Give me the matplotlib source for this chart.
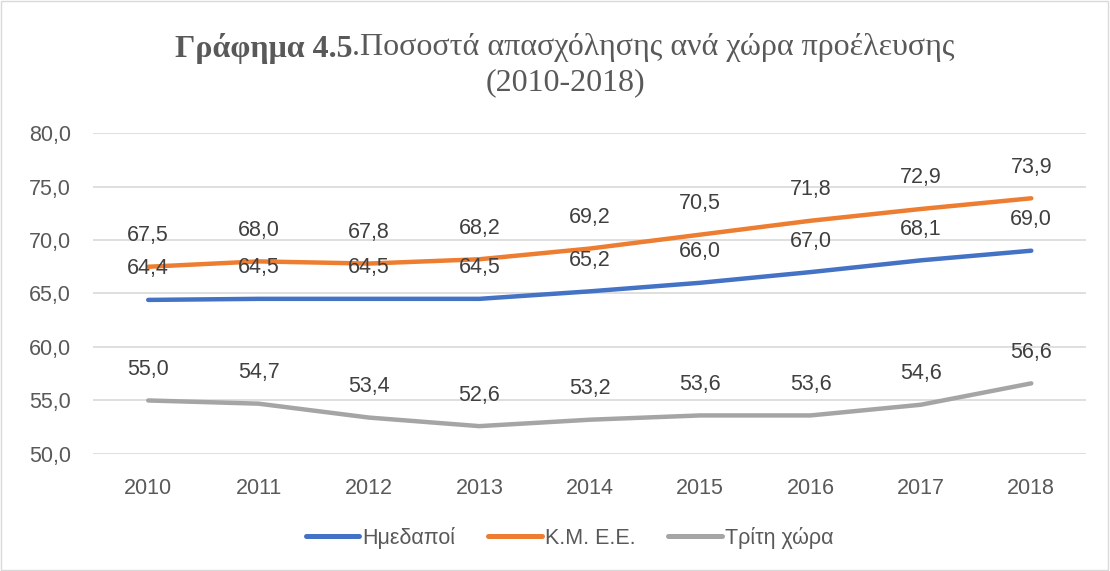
import matplotlib
matplotlib.use("Agg")
import matplotlib.pyplot as plt
from matplotlib.patches import Rectangle

years = ["2010", "2011", "2012", "2013", "2014", "2015", "2016", "2017", "2018"]
natives = [64.4, 64.5, 64.5, 64.5, 65.2, 66.0, 67.0, 68.1, 69.0]
eu = [67.5, 68.0, 67.8, 68.2, 69.2, 70.5, 71.8, 72.9, 73.9]
third = [55.0, 54.7, 53.4, 52.6, 53.2, 53.6, 53.6, 54.6, 56.6]
series_names = ["Ημεδαποί", "Κ.Μ. Ε.Ε.", "Τρίτη χώρα"]
y_ticks = [50, 55, 60, 65, 70, 75, 80]

colors = ["#4472C4", "#ED7D31", "#A5A5A5"]
text_color = "#595959"
sans = ["Liberation Sans", "DejaVu Sans"]
fs = 15.5

fig = plt.figure(figsize=(11.10, 5.71), dpi=100)
ax = fig.add_axes([0.0838, 0.205, 0.895, 0.562])

x = list(range(len(years)))
for vals, name, c in zip([natives, eu, third], series_names, colors):
    ax.plot(x, vals, color=c, lw=3.2, solid_capstyle="round", label=name, zorder=3)
    for xi, v in zip(x, vals):
        ax.annotate(f"{v:.1f}".replace(".", ","), (xi, v), xytext=(0, 31),
                    textcoords="offset pixels", ha="center", va="center",
                    fontsize=fs, color="#404040", family=sans, zorder=4)

ax.set_xlim(-0.5, len(years) - 0.5)
ax.set_ylim(50, 80)
ax.set_yticks(y_ticks)
ax.set_yticklabels([f"{t:.1f}".replace(".", ",") for t in y_ticks])
ax.set_xticks(x)
ax.set_xticklabels(years)
ax.tick_params(length=0, labelsize=fs, labelcolor=text_color)
ax.tick_params(axis="x", pad=17)
ax.tick_params(axis="y", pad=16)
for lab in ax.get_xticklabels() + ax.get_yticklabels():
    lab.set_family(sans)
ax.grid(axis="y", color="#D9D9D9", lw=1.2, zorder=0)
for s in ax.spines.values():
    s.set_visible(False)

leg = fig.legend(loc="center", bbox_to_anchor=(0.513, 0.058), ncol=3, frameon=False,
                 prop={"family": sans, "size": fs}, handlelength=2.5,
                 handletextpad=0.15, columnspacing=1.5, labelcolor=text_color)
for h in leg.get_lines():
    h.set_linewidth(3.6)

# Title with mixed bold / regular
renderer = fig.canvas.get_renderer()
serif = ["Liberation Serif", "DejaVu Serif"]
tfs = 23
t1 = fig.text(0, 0, "Γράφημα 4.5", fontsize=tfs, fontweight="bold", family=serif,
              color=text_color, va="center")
t2 = fig.text(0, 0, ".Ποσοστά απασχόλησης ανά χώρα προέλευσης", fontsize=tfs,
              family=serif, color=text_color, va="center")
w1 = t1.get_window_extent(renderer).width
w2 = t2.get_window_extent(renderer).width
W = fig.bbox.width
start = (W - (w1 + w2)) / 2 + 10
yline = 1 - 48 / 571
t1.set_position((start / W, yline))
t2.set_position(((start + w1) / W, yline))
fig.text(0.5 + 10 / W, 1 - 83 / 571, "(2010-2018)", fontsize=tfs, family=serif,
         color=text_color, ha="center", va="center")

fig.patches.append(Rectangle((0.001, 0.002), 0.997, 0.996, transform=fig.transFigure,
                             fill=False, edgecolor="#D9D9D9", lw=1))

fig.savefig("out.png", dpi=100)
